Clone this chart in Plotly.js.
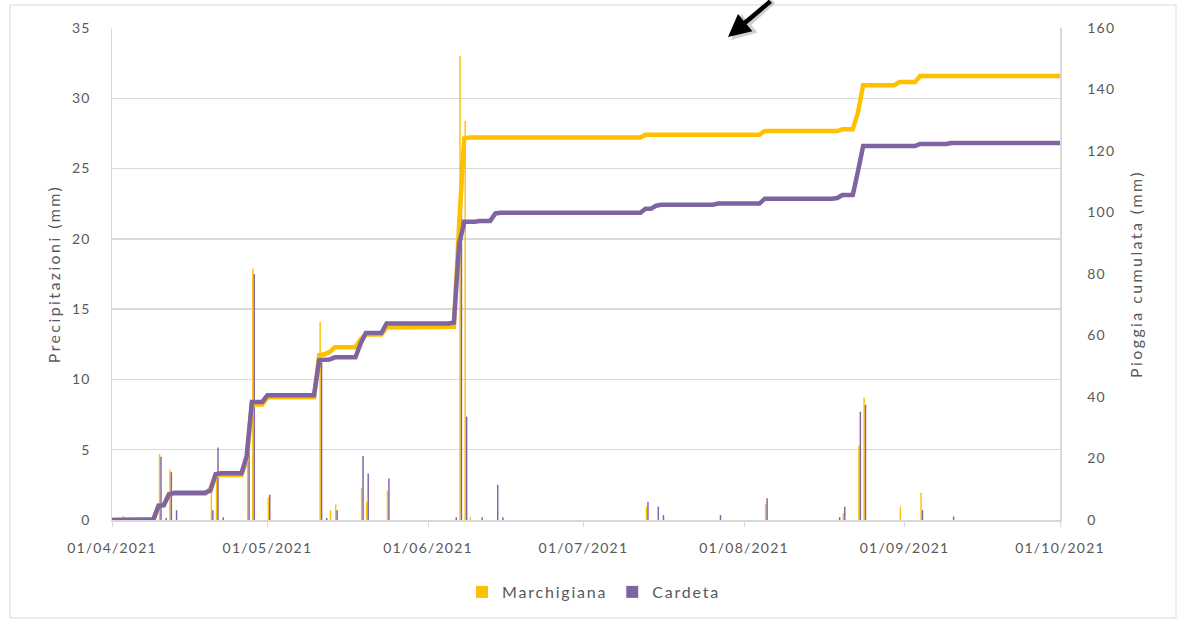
<!DOCTYPE html>
<html>
<head>
<meta charset="utf-8">
<script src="https://cdn.plot.ly/plotly-3.0.1.min.js"></script>
<style>
  html, body { margin: 0; padding: 0; background: #fff; }
  #chart { width: 1181px; height: 621px; }
  .xtick text, .ytick text, .y2tick text { letter-spacing: 1.2px; }
  .g-ytitle text, .g-y2title text { letter-spacing: 2.4px; }
  .legendtext { letter-spacing: 1.8px; }
</style>
</head>
<body>
<div id="chart"></div>
<script>
// ---- Daily rainfall (mm), left axis ----
const marchigianaRainDates = ['2021-04-03','2021-04-10','2021-04-12','2021-04-20','2021-04-21','2021-04-27','2021-04-28','2021-05-01','2021-05-11','2021-05-13','2021-05-14','2021-05-19','2021-05-20','2021-05-24','2021-06-07','2021-06-08','2021-06-09','2021-07-13','2021-08-05','2021-08-20','2021-08-23','2021-08-24','2021-08-31','2021-09-04'];
const marchigianaRain = [0.3,4.7,3.6,2.0,3.0,4.8,17.9,1.6,14.1,0.7,1.1,2.3,1.3,2.1,33.0,28.4,0.2,0.95,1.14,0.5,5.3,8.7,0.95,1.94];

const cardetaRainDates = ['2021-04-03','2021-04-10','2021-04-11','2021-04-12','2021-04-13','2021-04-20','2021-04-21','2021-04-22','2021-04-27','2021-04-28','2021-05-01','2021-05-11','2021-05-12','2021-05-14','2021-05-19','2021-05-20','2021-05-24','2021-06-06','2021-06-07','2021-06-08','2021-06-11','2021-06-14','2021-06-15','2021-07-13','2021-07-15','2021-07-16','2021-07-27','2021-08-05','2021-08-19','2021-08-20','2021-08-23','2021-08-24','2021-09-04','2021-09-10'];
const cardetaRain = [0.2,4.5,0.15,3.4,0.7,0.7,5.15,0.2,5.5,17.5,1.8,11.2,0.15,0.7,4.55,3.3,2.95,0.2,25.4,7.35,0.2,2.5,0.2,1.3,0.95,0.35,0.35,1.54,0.2,0.95,7.7,8.2,0.7,0.25];

// ---- Cumulative rainfall (mm), right axis ----
const marchigianaCumDates = ['2021-04-01','2021-04-02','2021-04-03','2021-04-09','2021-04-10','2021-04-11','2021-04-12','2021-04-19','2021-04-20','2021-04-21','2021-04-26','2021-04-27','2021-04-28','2021-04-30','2021-05-01','2021-05-10','2021-05-11','2021-05-12','2021-05-13','2021-05-14','2021-05-18','2021-05-19','2021-05-20','2021-05-23','2021-05-24','2021-06-06','2021-06-07','2021-06-08','2021-06-09','2021-07-12','2021-07-13','2021-08-04','2021-08-05','2021-08-19','2021-08-20','2021-08-22','2021-08-23','2021-08-24','2021-08-30','2021-08-31','2021-09-03','2021-09-04','2021-10-01'];
const marchigianaCum = [0,0,0.3,0.3,4.8,4.8,8.5,8.5,10.2,14.6,14.6,19.6,37.6,37.6,39.9,39.9,53.6,53.9,54.6,56.2,56.2,58.8,60.3,60.3,62.6,62.8,95.8,124.1,124.4,124.4,125.3,125.3,126.5,126.5,127.1,127.1,132.5,141.4,141.4,142.4,142.4,144.4,144.4];

const cardetaCumDates = ['2021-04-01','2021-04-02','2021-04-03','2021-04-09','2021-04-10','2021-04-11','2021-04-12','2021-04-13','2021-04-19','2021-04-20','2021-04-21','2021-04-22','2021-04-26','2021-04-27','2021-04-28','2021-04-30','2021-05-01','2021-05-10','2021-05-11','2021-05-12','2021-05-13','2021-05-14','2021-05-18','2021-05-19','2021-05-20','2021-05-23','2021-05-24','2021-06-05','2021-06-06','2021-06-07','2021-06-08','2021-06-10','2021-06-11','2021-06-13','2021-06-14','2021-06-15','2021-07-12','2021-07-13','2021-07-14','2021-07-15','2021-07-16','2021-07-26','2021-07-27','2021-08-04','2021-08-05','2021-08-18','2021-08-19','2021-08-20','2021-08-22','2021-08-23','2021-08-24','2021-09-03','2021-09-04','2021-09-09','2021-09-10','2021-10-01'];
const cardetaCum = [0,0,0.2,0.2,4.6,4.8,8.3,8.9,8.9,9.6,14.9,15.2,15.2,20.8,38.4,38.4,40.6,40.6,52.0,52.2,52.2,52.9,52.9,57.4,60.8,60.8,63.9,63.9,64.2,89.6,97.0,97.0,97.2,97.2,99.7,99.9,99.9,101.2,101.2,102.2,102.5,102.5,102.9,102.9,104.5,104.5,104.7,105.7,105.7,113.4,121.6,121.6,122.3,122.3,122.6,122.6];

const seriesNames = ['Marchigiana', 'Cardeta'];
const yellow = '#FFC000';
const purple = '#8064A2';
const textColor = '#595959';
const gridColor = '#D9D9D9';
const DAY = 86400000;

const traces = [
  { type: 'bar', name: seriesNames[0], x: marchigianaRainDates, y: marchigianaRain,
    width: 0.28 * DAY, offset: 0.04 * DAY,
    marker: { color: yellow, line: { width: 0 } }, yaxis: 'y', hoverinfo: 'x+y' },
  { type: 'bar', name: seriesNames[1], x: cardetaRainDates, y: cardetaRain,
    width: 0.28 * DAY, offset: 0.32 * DAY,
    marker: { color: purple, line: { width: 0 } }, yaxis: 'y', hoverinfo: 'x+y' },
  { type: 'scatter', mode: 'lines', name: seriesNames[0] + ' cumulata', x: marchigianaCumDates, y: marchigianaCum,
    line: { color: yellow, width: 4.5 }, yaxis: 'y2', showlegend: false },
  { type: 'scatter', mode: 'lines', name: seriesNames[1] + ' cumulata', x: cardetaCumDates, y: cardetaCum,
    line: { color: purple, width: 4.5 }, yaxis: 'y2', showlegend: false }
];

// plot area in px: x 112..1060, y 28..520
function px2paperX(X) { return (X - 112) / 948; }
function px2paperY(Y) { return (520 - Y) / 492; }

const layout = {
  width: 1181, height: 621,
  margin: { l: 112, r: 121, t: 28, b: 101, pad: 0 },
  paper_bgcolor: '#ffffff', plot_bgcolor: '#ffffff',
  font: { family: 'Lato, sans-serif', color: textColor, size: 14 },
  barmode: 'overlay',
  showlegend: true,
  legend: { orientation: 'h', x: px2paperX(594), xanchor: 'center', y: px2paperY(592), yanchor: 'middle',
            font: { family: 'Lato, sans-serif', size: 16, color: textColor }, itemwidth: 30, traceorder: 'normal' },
  xaxis: {
    type: 'date', range: ['2021-04-01', '2021-10-01'],
    tick0: '2021-04-01', dtick: 'M1', tickformat: '%d/%m/%Y',
    ticks: 'outside', ticklen: 5, tickcolor: gridColor, tickwidth: 1,
    showline: true, linecolor: gridColor, linewidth: 1.5,
    showgrid: false, zeroline: false,
    tickfont: { family: 'Lato, sans-serif', size: 14, color: textColor },
    ticklabelstandoff: 10
  },
  yaxis: {
    range: [0, 35], dtick: 5, tick0: 0,
    showgrid: true, gridcolor: gridColor, gridwidth: 1.5,
    showline: true, linecolor: gridColor, linewidth: 1.5,
    zeroline: false, ticks: '',
    tickfont: { family: 'Lato, sans-serif', size: 14, color: textColor },
    ticklabelstandoff: 17,
    title: { text: 'Precipitazioni (mm)', font: { family: 'Lato, sans-serif', size: 16, color: textColor }, standoff: 7 }
  },
  yaxis2: {
    range: [0, 160], dtick: 20, tick0: 0,
    overlaying: 'y', side: 'right',
    showgrid: false, showline: true, linecolor: gridColor, linewidth: 1.5,
    zeroline: false, ticks: '',
    tickfont: { family: 'Lato, sans-serif', size: 14, color: textColor },
    ticklabelstandoff: 23,
    title: { text: 'Pioggia cumulata (mm)', font: { family: 'Lato, sans-serif', size: 16, color: textColor }, standoff: 16 }
  },
  shapes: [
    { type: 'rect', xref: 'paper', yref: 'paper',
      x0: px2paperX(10), x1: px2paperX(1176), y0: px2paperY(618), y1: px2paperY(5),
      line: { color: gridColor, width: 1 }, fillcolor: 'rgba(0,0,0,0)', layer: 'below' }
  ],
  annotations: [
    { xref: 'paper', yref: 'paper', x: px2paperX(731), y: px2paperY(40), ax: 44, ay: -44,
      text: '', showarrow: true, arrowhead: 2, arrowsize: 1, arrowwidth: 5, arrowcolor: 'rgba(0,0,0,0.18)' },
    { xref: 'paper', yref: 'paper', x: px2paperX(728), y: px2paperY(37), ax: 44, ay: -44,
      text: '', showarrow: true, arrowhead: 2, arrowsize: 1, arrowwidth: 4.5, arrowcolor: '#000000' }
  ]
};

Plotly.newPlot('chart', traces, layout, { displayModeBar: false, staticPlot: true });
</script>
</body>
</html>
